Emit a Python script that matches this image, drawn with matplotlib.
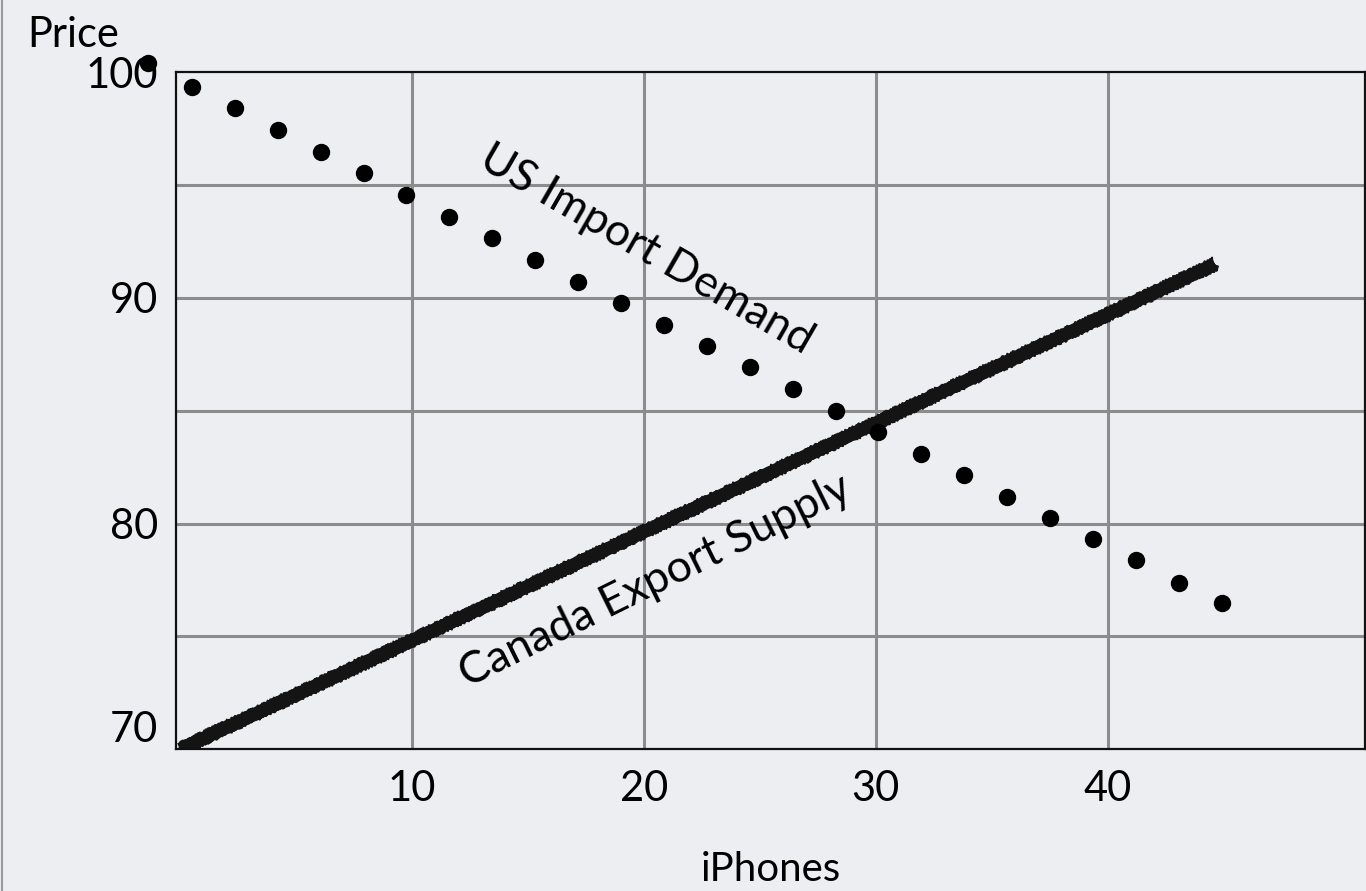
import matplotlib
matplotlib.use("Agg")
import matplotlib.pyplot as plt
from matplotlib.lines import Line2D

# demand dots (first one sits just outside the axes)
demand_x = [-1.38, 0.52, 2.37, 4.23, 6.08, 7.93, 9.75, 11.60, 13.45, 15.31, 17.16,
            19.02, 20.87, 22.73, 24.58, 26.43, 28.29, 30.10, 31.95, 33.81, 35.66,
            37.51, 39.37, 41.22, 43.08, 44.93]
demand_y = [100.39, 99.37, 98.40, 97.43, 96.46, 95.53, 94.56, 93.59, 92.66, 91.69,
            90.72, 89.79, 88.82, 87.85, 86.93, 85.95, 84.98, 84.06, 83.09, 82.16,
            81.20, 80.27, 79.30, 78.37, 77.39, 76.47]

# supply line end points
supply_x = [0.0, 44.63]
supply_y = [70.0, 91.5]

x_ticks = [10, 20, 30, 40]
y_ticks = [70, 80, 90, 100]
y_grid = [75, 80, 85, 90, 95]

bg = "#eceef1"
plt.rcParams["font.family"] = ["Lato", "DejaVu Sans"]

fig = plt.figure(figsize=(13.66, 8.91), dpi=100, facecolor=bg)
ax = fig.add_axes([176 / 1366, 1 - 749.3 / 891, (1365 - 176) / 1366, (749.3 - 72.3) / 891])
ax.set_facecolor(bg)
ax.set_xlim(-0.17, 51.1)
ax.set_ylim(70, 100)

# grid
for x in x_ticks:
    ax.axvline(x, color="#8c8c8c", lw=2.2, zorder=1)
for y in y_grid:
    ax.axhline(y, color="#8c8c8c", lw=2.2, zorder=1)

for s in ax.spines.values():
    s.set_linewidth(1.6)
    s.set_color("#111111")
    s.set_zorder(4)

# supply line, thick and a bit rough like chalk
ax.plot(supply_x, supply_y, color="#141414", lw=9.5, solid_capstyle="butt", zorder=3)
for lw, sk in [(3, (4.5, 3, 3)), (2.5, (5.5, 2, 4)), (2, (6.5, 2, 5)), (1.5, (7, 1.5, 6))]:
    ln, = ax.plot(supply_x, supply_y, color="#141414", lw=lw, zorder=3)
    ln.set_sketch_params(*sk)

# demand dots
ax.plot(demand_x, demand_y, "o", color="black", ms=11.5, ls="none", clip_on=False, zorder=5)

ax.set_xticks(x_ticks)
ax.set_xticklabels([str(v) for v in x_ticks])
ax.set_yticks(y_ticks)
ax.set_yticklabels([str(v) for v in y_ticks])
ax.tick_params(length=0, labelsize=30, colors="black")
ax.tick_params(axis="x", pad=15)
ax.tick_params(axis="y", pad=13)
ax.get_yticklabels()[0].set_verticalalignment("bottom")

ax.set_xlabel("iPhones", fontsize=29, labelpad=31)
fig.text(27 / 1366, 1 - 47 / 891, "Price", fontsize=30, ha="left", va="baseline")

ax.text(20.1, 92.15, "US Import Demand", fontsize=32, rotation=-30,
        rotation_mode="anchor", ha="center", va="center", zorder=6)
ax.text(20.48, 77.45, "Canada Export Supply", fontsize=32, rotation=26.3,
        rotation_mode="anchor", ha="center", va="center", zorder=6)

# slide border on the left
fig.add_artist(Line2D([0.0015, 0.0015], [0, 1], color="#9a9a9a", lw=1.5))

fig.savefig("out.png", dpi=100, facecolor=bg)
